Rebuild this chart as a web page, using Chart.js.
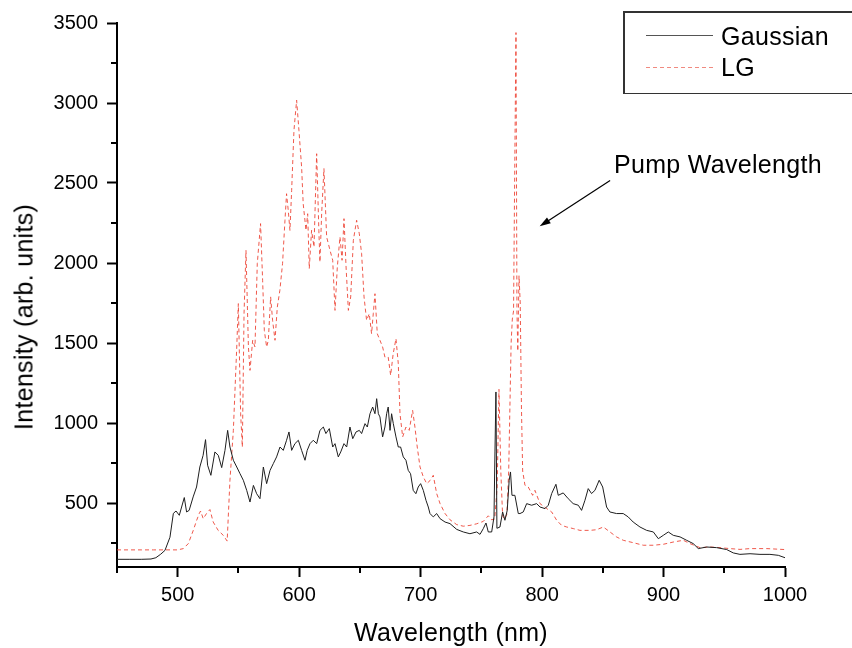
<!DOCTYPE html>
<html>
<head>
<meta charset="utf-8">
<title>Gaussian vs LG spectrum</title>
<script src="https://cdn.jsdelivr.net/npm/chart.js@4.4.1/dist/chart.umd.min.js"></script>
<style>
    html, body { margin: 0; padding: 0; background: #fff; overflow: hidden; }
    #wrap {
        position: relative; width: 852px; height: 648px; overflow: hidden;
        font-family: "Liberation Sans", Arial, sans-serif; color: #000;
    }
    #chart { position: absolute; left: 0; top: 0; }
    .txt { position: absolute; font-size: 25px; line-height: 25px; letter-spacing: 0.3px; white-space: nowrap; }
    #ytitle { left: 24px; top: 317px; transform: translate(-50%, -50%) rotate(-90deg); }
    #xtitle { left: 451px; top: 620px; transform: translateX(-50%); }
    .rule { position: absolute; background: #333; }
    #legend-keys { position: absolute; left: 646px; top: 11px; }
</style>
</head>
<body>
<div id="wrap">
    <canvas id="chart" width="852" height="648"></canvas>
    <div class="txt" id="ytitle">Intensity (arb. units)</div>
    <div class="txt" id="xtitle">Wavelength (nm)</div>
    <div class="rule" style="left:623px;top:11px;width:229px;height:1.5px;"></div>
    <div class="rule" style="left:623px;top:92.5px;width:229px;height:1.5px;"></div>
    <div class="rule" style="left:623px;top:11px;width:1.5px;height:83px;"></div>
    <svg id="legend-keys" width="70" height="80">
        <line x1="0" y1="24.5" x2="67" y2="24.5" stroke="#555" stroke-width="1"></line>
        <line x1="0" y1="56.5" x2="67" y2="56.5" stroke="#f08a80" stroke-width="1" stroke-dasharray="4,3"></line>
    </svg>
    <div class="txt" style="left:721px;top:24px;">Gaussian</div>
    <div class="txt" style="left:721px;top:55px;">LG</div>
    <div class="txt" style="left:614px;top:152px;">Pump Wavelength</div>
</div>
<script>
(function () {
    'use strict';

    // Gaussian beam spectrum (wavelength nm / intensity)
    var gaussWl = [
        450, 460, 470, 478, 482, 486, 489.5, 493.6, 496.4, 498.6,
        501.3, 503.2, 505.4, 507.3, 509.4, 512.7, 515.5, 518.2, 520.9, 522.9,
        524.6, 527.3, 530.6, 533.4, 536.2, 538.9, 541.1, 543, 545.8, 548.6,
        551.3, 554, 556.8, 559.5, 562.3, 565, 567.7, 570.5, 573.2, 576,
        578.7, 581.4, 584.2, 586.9, 589.6, 591.6, 593.8, 596.5, 599.3, 602,
        604.8, 606.6, 608.9, 611.6, 614.4, 617.1, 619.9, 622, 624.8, 627.6,
        629.5, 632.2, 634.2, 636.9, 639.1, 641.8, 644.1, 646.8, 649.5, 651.4,
        654.2, 656.1, 658.3, 660.5, 662.4, 663.8, 665.2, 666.5, 668.7, 670.6,
        672, 673.3, 674.8, 676.1, 677.5, 679.7, 681.6, 683.5, 685.7, 687.9,
        689.8, 691.7, 693.9, 696.1, 698, 700, 702.2, 704.4, 706.3, 707.7,
        710.4, 713.2, 716, 720.1, 724.2, 729.7, 735.1, 740.6, 746.1, 748.9,
        751.6, 753.8, 755.7, 758.5, 760.4, 761.2, 762, 762.8, 765.3, 767.5,
        769.4, 771.3, 772.9, 774, 775.2, 777.6, 780.4, 781.8, 784.5, 787.3,
        791.4, 795.5, 798.3, 802.4, 805.1, 807.9, 811.4, 813.3, 817.4, 821.5,
        825.6, 829.8, 832.5, 835.3, 838, 840.7, 843.5, 847, 849.9, 853.1,
        855.8, 861.3, 866.8, 870.9, 875, 880.6, 886.1, 891.6, 895.7, 899.8,
        903.9, 908, 913.6, 919, 924.5, 928.6, 935.5, 943.7, 952, 957.4,
        962.9, 971.2, 979.4, 987.6, 994.5, 1000
    ];
    var gaussInt = [
        148, 148, 148, 150, 158, 180, 204, 286, 435, 450,
        423, 475, 534, 444, 454, 538, 600, 725, 798, 896,
        736, 673, 819, 798, 721, 829, 954, 850, 767, 725,
        683, 642, 579, 506, 610, 558, 527, 725, 621, 704,
        746, 788, 850, 829, 892, 944, 829, 871, 892, 829,
        767, 829, 871, 892, 871, 954, 975, 934, 965, 850,
        871, 788, 819, 871, 850, 975, 902, 944, 954, 934,
        996, 975, 1058, 1100, 1058, 1152, 1058, 1038, 913, 975,
        1058, 1100, 954, 1058, 996, 913, 850, 850, 788, 767,
        704, 683, 579, 558, 600, 621, 579, 517, 475, 434,
        413, 434, 402, 381, 371, 335, 319, 308, 319, 304,
        340, 375, 319, 319, 413, 819, 1194, 342, 350, 444,
        392, 454, 642, 694, 548, 548, 434, 434, 444, 496,
        486, 496, 475, 465, 486, 559, 617, 548, 563, 527,
        496, 486, 454, 517, 590, 559, 579, 642, 600, 475,
        444, 434, 434, 413, 381, 350, 329, 319, 277, 298,
        319, 298, 288, 267, 246, 215, 225, 221, 209, 188,
        179, 183, 179, 179, 173, 158
    ];

    // LG beam spectrum
    var lgWl = [
        450, 460, 470, 480, 490, 500, 504.6, 508.7, 512.8, 515.6,
        517.7, 518.8, 521, 523.7, 526.5, 529.2, 533.3, 537.5, 540.7, 543,
        545.8, 548.6, 549.9, 551.8, 553.2, 554.6, 556.2, 558.2, 559.5, 561.7,
        563.6, 565.5, 568.2, 569.9, 571.3, 573.2, 574.6, 576.5, 578.1, 580.1,
        582, 584.1, 586.3, 588.3, 589.6, 591, 592.4, 593.8, 595.7, 597.9,
        599.8, 602, 603.3, 605.6, 607, 608.3, 610.2, 612.2, 614.4, 616.2,
        617.1, 618.5, 620.4, 622.6, 625.4, 627.6, 629.5, 631.4, 633.6, 635.3,
        636.9, 638.6, 640.5, 642.4, 644.6, 647.3, 649.5, 651.4, 653.4, 655.5,
        657.7, 659.6, 661, 662.4, 664.3, 666.5, 668.7, 670.6, 673.3, 675.3,
        677.4, 679.7, 681.6, 683, 685.2, 687.9, 690.6, 693.4, 695.3, 697.2,
        699.5, 702.2, 705, 707.7, 710.4, 713.2, 716, 720.1, 724.2, 729.7,
        735.1, 740.6, 746.1, 751.6, 755.7, 758.5, 761, 763, 764.5, 766,
        767.5, 769, 771, 772.5, 773.5, 774.5, 775.5, 776.5, 777.5, 778.5,
        779.3, 780, 781, 782, 783, 784, 785.9, 788.6, 792.2, 794.1,
        798.3, 803.8, 807.9, 812, 816.1, 820.3, 825.7, 831.2, 839.4, 844.9,
        850.4, 855.9, 861.3, 866.8, 875, 883.3, 891.6, 899.8, 908, 916.3,
        921.8, 930, 938.2, 946.5, 954.7, 963, 971.2, 985, 1000
    ];
    var lgInt = [
        207, 207, 207, 207, 207, 207, 215, 246, 329, 392,
        434, 450, 402, 434, 459, 381, 329, 298, 262, 642,
        954, 1475, 1746, 1058, 850, 1684, 2079, 1475, 1329, 1517,
        1475, 1996, 2246, 1892, 1579, 1475, 1517, 1788, 1642, 1517,
        1725, 1829, 1996, 2267, 2433, 2329, 2204, 2454, 2829, 3017,
        2829, 2600, 2371, 2204, 2308, 1965, 2204, 2100, 2683, 2204,
        2006, 2308, 2590, 2163, 2079, 2017, 1704, 1975, 2163, 2017,
        2277, 1975, 1704, 1788, 2142, 2267, 2183, 2058, 1788, 1642,
        1683, 1558, 1683, 1808, 1558, 1517, 1475, 1412, 1412, 1298,
        1433, 1527, 1371, 1058, 913, 975, 954, 1079, 975, 850,
        725, 663, 621, 640, 673, 559, 496, 434, 395, 365,
        355, 360, 370, 385, 420, 395, 400, 600, 1210, 700,
        420, 400, 430, 700, 1100, 1500, 1650, 1700, 2600, 3440,
        1700, 1450, 1920, 1750, 1100, 700, 611, 600, 548, 579,
        496, 465, 444, 392, 360, 350, 340, 329, 329, 333,
        350, 319, 288, 267, 252, 236, 236, 242, 256, 267,
        246, 221, 225, 221, 215, 210, 215, 215, 209
    ];

    var xMajorTicks = [500, 600, 700, 800, 900, 1000];
    var xMinorTicks = [450, 550, 650, 750, 850, 950];
    var yMajorTicks = [500, 1000, 1500, 2000, 2500, 3000, 3500];
    var yMinorTicks = [250, 750, 1250, 1750, 2250, 2750, 3250];

    // "Pump Wavelength" arrow, in data units: tail then head
    var arrowFrom = [856, 2515];
    var arrowTo = [798, 2229];

    function toPoints(xs, ys) {
        var out = [];
        for (var i = 0; i < xs.length; i++) {
            out.push({ x: xs[i], y: ys[i] });
        }
        return out;
    }

    var axisExtras = {
        id: 'axisExtras',
        afterDraw: function (chart) {
            var ctx = chart.ctx;
            var xs = chart.scales.x;
            var ys = chart.scales.y;
            var area = chart.chartArea;
            ctx.save();
            ctx.strokeStyle = '#000';
            ctx.lineWidth = 2;
            ctx.beginPath();
            xMinorTicks.forEach(function (v) {
                var px = Math.round(xs.getPixelForValue(v));
                ctx.moveTo(px, area.bottom);
                ctx.lineTo(px, area.bottom + 6);
            });
            yMinorTicks.forEach(function (v) {
                var py = Math.round(ys.getPixelForValue(v));
                ctx.moveTo(area.left, py);
                ctx.lineTo(area.left - 6, py);
            });
            ctx.stroke();

            var x0 = xs.getPixelForValue(arrowFrom[0]);
            var y0 = ys.getPixelForValue(arrowFrom[1]);
            var x1 = xs.getPixelForValue(arrowTo[0]);
            var y1 = ys.getPixelForValue(arrowTo[1]);
            var ang = Math.atan2(y1 - y0, x1 - x0);
            ctx.lineWidth = 1.2;
            ctx.beginPath();
            ctx.moveTo(x0, y0);
            ctx.lineTo(x1 - 8 * Math.cos(ang), y1 - 8 * Math.sin(ang));
            ctx.stroke();
            ctx.fillStyle = '#000';
            ctx.beginPath();
            ctx.moveTo(x1, y1);
            ctx.lineTo(x1 - 11 * Math.cos(ang) + 3.5 * Math.sin(ang), y1 - 11 * Math.sin(ang) - 3.5 * Math.cos(ang));
            ctx.lineTo(x1 - 11 * Math.cos(ang) - 3.5 * Math.sin(ang), y1 - 11 * Math.sin(ang) + 3.5 * Math.cos(ang));
            ctx.closePath();
            ctx.fill();
            ctx.restore();
        }
    };

    var tickFont = { family: '"Liberation Sans", Arial, sans-serif', size: 20 };

    new Chart(document.getElementById('chart'), {
        type: 'line',
        data: {
            datasets: [{
                label: 'Gaussian',
                data: toPoints(gaussWl, gaussInt),
                borderColor: '#1e1e1e',
                borderWidth: 1,
                pointRadius: 0,
                tension: 0
            }, {
                label: 'LG',
                data: toPoints(lgWl, lgInt),
                borderColor: 'rgba(236, 60, 45, 0.85)',
                borderWidth: 1,
                borderDash: [4, 3],
                pointRadius: 0,
                tension: 0
            }]
        },
        options: {
            responsive: false,
            animation: false,
            devicePixelRatio: 1,
            layout: { padding: { top: 23, right: 67, left: 0, bottom: 0 } },
            plugins: {
                legend: { display: false },
                tooltip: { enabled: false }
            },
            scales: {
                x: {
                    type: 'linear',
                    min: 450,
                    max: 1000,
                    afterBuildTicks: function (scale) {
                        scale.ticks = xMajorTicks.map(function (v) { return { value: v }; });
                    },
                    afterFit: function (scale) { scale.height = 81; },
                    ticks: {
                        color: '#000',
                        font: tickFont,
                        padding: 6,
                        maxRotation: 0,
                        autoSkip: false,
                        callback: function (v) { return String(v); }
                    },
                    grid: { drawOnChartArea: false, tickLength: 10, tickWidth: 2, tickColor: '#000' },
                    border: { display: true, color: '#000', width: 2 }
                },
                y: {
                    type: 'linear',
                    min: 100,
                    max: 3500,
                    afterBuildTicks: function (scale) {
                        scale.ticks = yMajorTicks.map(function (v) { return { value: v }; });
                    },
                    afterFit: function (scale) { scale.width = 117; },
                    ticks: {
                        color: '#000',
                        font: tickFont,
                        padding: 9,
                        autoSkip: false,
                        callback: function (v) { return String(v); }
                    },
                    grid: { drawOnChartArea: false, tickLength: 10, tickWidth: 2, tickColor: '#000' },
                    border: { display: true, color: '#000', width: 2 }
                }
            }
        },
        plugins: [axisExtras]
    });
})();
</script>
</body>
</html>
